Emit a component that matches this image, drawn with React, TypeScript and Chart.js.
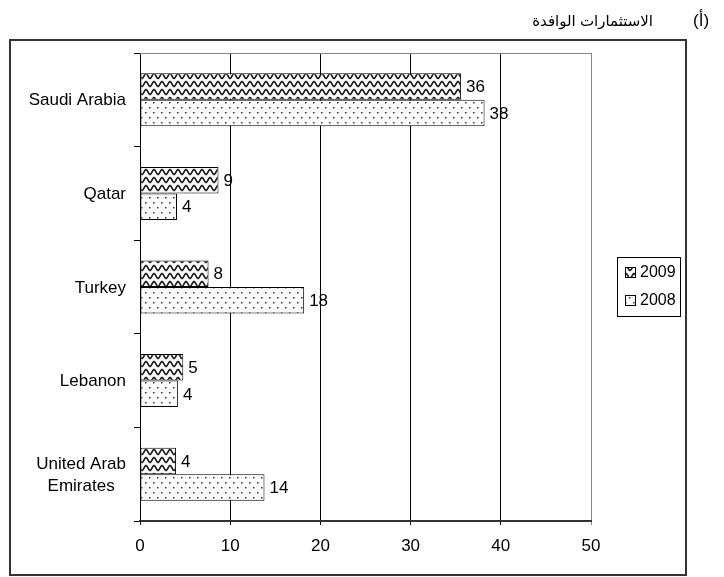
import React, { useEffect, useRef } from 'react';
import { Chart, registerables } from 'chart.js';
Chart.register(...registerables);

const categories: string[][] = [['Saudi Arabia'], ['Qatar'], ['Turkey'], ['Lebanon'], ['United Arab', 'Emirates']];
const seriesNames = ['2009', '2008'];
const values2009 = [35.6, 8.7, 7.6, 4.8, 4.0];
const values2008 = [38.2, 4.1, 18.2, 4.2, 13.8];
const xMin = 0;
const xMax = 50;
const xStep = 10;
const titleMark = '(أ)';
const titleText = 'الاستثمارات الوافدة';

const FONT = '"Liberation Sans", Arial, "DejaVu Sans", sans-serif';

function makeWave(): CanvasPattern | string {
  const c = document.createElement('canvas');
  c.width = 8; c.height = 8;
  const g = c.getContext('2d');
  if (!g) return '#fff';
  g.fillStyle = '#fff';
  g.fillRect(0, 0, 8, 8);
  g.strokeStyle = '#222';
  g.lineWidth = 1.7;
  for (let off = -8; off <= 8; off += 8) {
    g.beginPath();
    for (let x = -1; x <= 9; x += 0.25) {
      const y = 4 + off - 2.4 * Math.sin((2 * Math.PI * x) / 8);
      if (x === -1) g.moveTo(x, y); else g.lineTo(x, y);
    }
    g.stroke();
  }
  const p = g.createPattern(c, 'repeat');
  return p || '#fff';
}

function makeDots(): CanvasPattern | string {
  const c = document.createElement('canvas');
  c.width = 8; c.height = 10;
  const g = c.getContext('2d');
  if (!g) return '#fff';
  g.fillStyle = '#fff';
  g.fillRect(0, 0, 8, 10);
  g.fillStyle = '#333';
  g.fillRect(1, 2, 1.5, 1.5);
  g.fillRect(5, 7, 1.5, 1.5);
  const p = g.createPattern(c, 'repeat');
  return p || '#fff';
}

export default function App() {
  const ref = useRef<HTMLCanvasElement | null>(null);
  useEffect(() => {
    const canvas = ref.current;
    if (!canvas) return;
    const wave = makeWave();
    const dots = makeDots();
    const fills = [wave, dots];

    const decor = {
      id: 'decor',
      afterDraw(chart: any) {
        const ctx = chart.ctx as CanvasRenderingContext2D;
        const area = chart.chartArea;
        const yScale = chart.scales.y;
        ctx.save();
        // outer border
        ctx.strokeStyle = '#333';
        ctx.lineWidth = 2;
        ctx.strokeRect(10, 40, 676, 535);
        // plot top border
        ctx.strokeStyle = '#888';
        ctx.lineWidth = 1;
        ctx.beginPath();
        ctx.moveTo(area.left, Math.round(area.top) + 0.5);
        ctx.lineTo(area.right, Math.round(area.top) + 0.5);
        ctx.stroke();
        // title
        ctx.fillStyle = '#000';
        ctx.font = '15px ' + FONT;
        ctx.textBaseline = 'alphabetic';
        ctx.direction = 'rtl';
        ctx.textAlign = 'right';
        ctx.fillText(titleText, 653, 26);
        ctx.direction = 'ltr';
        ctx.textAlign = 'left';
        ctx.font = '17px ' + FONT;
        ctx.fillText(titleMark, 693, 26);
        // category labels
        ctx.font = '17px ' + FONT;
        ctx.textBaseline = 'middle';
        ctx.textAlign = 'center';
        const lh = 22;
        categories.forEach((lines, i) => {
          const yc = yScale.getPixelForTick(i);
          const w = Math.max(...lines.map((l) => ctx.measureText(l).width));
          const cx = area.left - 14 - w / 2;
          lines.forEach((l, j) => {
            ctx.fillText(l, cx, yc + 1 + (j - (lines.length - 1) / 2) * lh);
          });
        });
        // data labels
        ctx.textAlign = 'left';
        chart.data.datasets.forEach((ds: any, di: number) => {
          const meta = chart.getDatasetMeta(di);
          meta.data.forEach((bar: any, i: number) => {
            ctx.fillText(String(Math.round(ds.data[i])), bar.x + 5, bar.y + 1);
          });
        });
        // legend
        ctx.strokeStyle = '#000';
        ctx.lineWidth = 1;
        ctx.strokeRect(617.5, 257.5, 63, 59);
        ctx.font = '16px ' + FONT;
        const ys = [272, 300];
        seriesNames.forEach((name, i) => {
          ctx.fillStyle = fills[i] as any;
          ctx.fillRect(625, ys[i] - 5, 10, 10);
          ctx.strokeRect(625.5, ys[i] - 4.5, 10, 10);
          ctx.fillStyle = '#000';
          ctx.fillText(name, 640, ys[i] + 1);
        });
        ctx.restore();
      },
    };

    const chart = new Chart(canvas, {
      type: 'bar',
      data: {
        labels: categories.map((c) => c.join(' ')),
        datasets: [
          { label: seriesNames[0], data: values2009, backgroundColor: wave as any, borderColor: '#000', borderWidth: 1, borderSkipped: false, categoryPercentage: 0.566, barPercentage: 1 },
          { label: seriesNames[1], data: values2008, backgroundColor: dots as any, borderColor: '#000', borderWidth: 1, borderSkipped: false, categoryPercentage: 0.566, barPercentage: 1 },
        ],
      },
      options: {
        indexAxis: 'y',
        responsive: false,
        animation: false,
        devicePixelRatio: 1,
        layout: { padding: { top: 53, right: 133, bottom: 0, left: 0 } },
        plugins: { legend: { display: false }, tooltip: { enabled: false }, title: { display: false } },
        scales: {
          x: {
            type: 'linear',
            min: xMin,
            max: xMax,
            ticks: { stepSize: xStep, color: '#000', font: { family: FONT, size: 17 }, padding: 11, maxRotation: 0 },
            grid: {
              color: (c: any) => (c.index === 5 ? '#888' : '#000'),
              lineWidth: 1,
              tickLength: 4,
              drawOnChartArea: true,
            },
            border: { display: true, color: '#333', width: 2 },
            afterFit: (s: any) => { s.height = 56; },
          },
          y: {
            type: 'category',
            offset: true,
            ticks: { display: false },
            grid: { offset: true, drawOnChartArea: false, drawTicks: true, tickLength: 6, color: '#000' },
            border: { display: true, color: '#000', width: 1 },
            afterFit: (s: any) => { s.width = 140; },
          },
        },
      },
      plugins: [decor],
    });
    return () => chart.destroy();
  }, []);
  return (
    <div style={{ position: 'absolute', left: 0, top: 0, width: 724, height: 577, background: '#fff' }}>
      <canvas ref={ref} width={724} height={577} />
    </div>
  );
}
